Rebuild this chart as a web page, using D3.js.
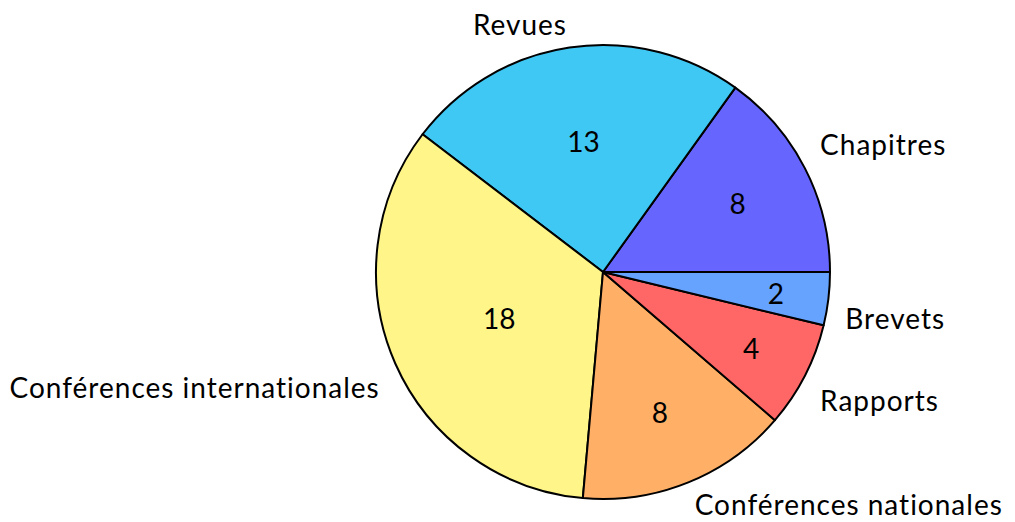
<!DOCTYPE html>
<html>
<head>
<meta charset="utf-8">
<script src="https://cdn.jsdelivr.net/npm/d3@7"></script>
<style>
  body { margin: 0; background: #fff; }
  text { font-family: Lato, sans-serif; fill: #000; font-variant-ligatures: none; }
</style>
</head>
<body>
<svg id="chart"></svg>
<script>
const categories = ['Chapitres', 'Revues', 'Conférences internationales', 'Conférences nationales', 'Rapports', 'Brevets'];
const counts = [8, 13, 18, 8, 4, 2];
const colors = ['#6666ff', '#40c8f4', '#fff589', '#ffb066', '#ff6666', '#66a3ff'];

const width = 1015;
const height = 522;
const cx = 603;
const cy = 272;
const radius = 227;
const fontSize = 28;

const data = categories.map((c, i) => ({ label: c, value: counts[i], color: colors[i] }));

const svg = d3.select('#chart')
  .attr('width', width)
  .attr('height', height);

const g = svg.append('g')
  .attr('transform', `translate(${cx},${cy})`);

// counter-clockwise from 3 o'clock, like the tikz pie
const pie = d3.pie()
  .sort(null)
  .value(d => d.value)
  .startAngle(Math.PI / 2)
  .endAngle(Math.PI / 2 - 2 * Math.PI);

const arc = d3.arc()
  .innerRadius(0)
  .outerRadius(radius);

const arcs = pie(data);

g.selectAll('.slice')
  .data(arcs)
  .enter()
    .append('path')
    .attr('class', 'slice')
    .attr('d', arc)
    .attr('fill', d => d.data.color)
    .attr('stroke', '#000')
    .attr('stroke-width', 2)
    .attr('stroke-linejoin', 'round');

// small slices get their number nearer the rim
const numRadius = d3.scaleLinear()
  .domain([0, 18])
  .range([0.8 * radius, 0.5 * radius]);

// d3 angles are clockwise from 12 o'clock
const mid = d => (d.startAngle + d.endAngle) / 2;

g.selectAll('.num')
  .data(arcs)
  .enter()
    .append('text')
    .attr('class', 'num')
    .attr('x', d => Math.sin(mid(d)) * numRadius(d.value))
    .attr('y', d => -Math.cos(mid(d)) * numRadius(d.value))
    .attr('text-anchor', 'middle')
    .attr('dominant-baseline', 'central')
    .style('font-size', `${fontSize}px`)
    .text(d => d.value);

// outer labels: nearest box corner sits just outside the rim on the mid angle
const labelR = radius + 17;
const halfBox = 17;
// keep the labels inside the picture
const yMin = 24 - cy;
const yMax = height - 18 - cy;

g.selectAll('.lbl')
  .data(arcs)
  .enter()
    .append('text')
    .attr('class', 'lbl')
    .attr('x', d => Math.sin(mid(d)) * labelR)
    .attr('y', (d) => {
      const py = -Math.cos(mid(d)) * labelR;
      const y = py + (Math.cos(mid(d)) > 0 ? -halfBox : halfBox);
      return Math.max(yMin, Math.min(yMax, y));
    })
    .attr('text-anchor', d => (Math.sin(mid(d)) > 0 ? 'start' : 'end'))
    .attr('dominant-baseline', 'central')
    .style('font-size', `${fontSize}px`)
    .style('letter-spacing', '1px')
    .text(d => d.data.label);
</script>
</body>
</html>
